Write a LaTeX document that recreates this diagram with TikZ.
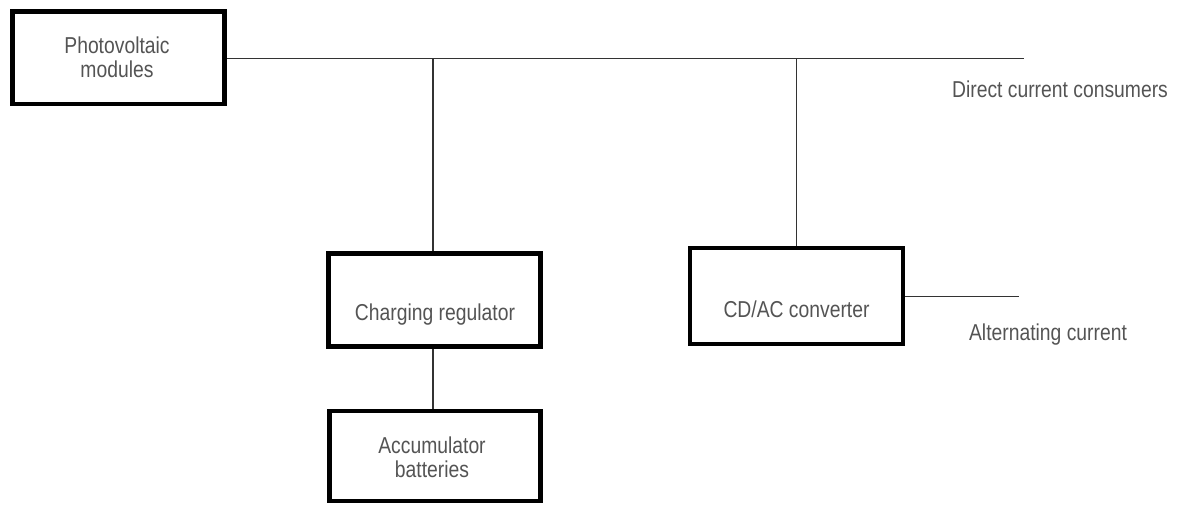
\documentclass[tikz,border=0pt]{standalone}
\usepackage{fontspec}
\setmainfont[FakeStretch=0.84]{Liberation Sans}
\usetikzlibrary{positioning}
\definecolor{labelgray}{rgb}{0.33,0.33,0.33}
\definecolor{wiregray}{rgb}{0.2,0.2,0.2}
\tikzset{
    pv diagram/.style = {x=1pt, y=-1pt},
    block/.style      = {draw, line width=4.6pt, fill=white,
                         minimum width=212pt, minimum height=93pt},
    txt/.style        = {text=labelgray, align=center, inner sep=0pt,
                         font=\fontsize{23}{24}\selectfont},
    wire/.style       = {draw=wiregray, line width=1.5pt},
    tap/.style        = {coordinate}
}
\begin{document}
\begin{tikzpicture}[pv diagram]
\useasboundingbox (0,0) rectangle (1184,504);

% ================= Blocks =================
\node[block, minimum height=92.5pt] (pv) at (118.5,57.75) {};
\node[block] (regulator) at (434.5,300) {};
\node[block, minimum width=211pt, minimum height=90pt] (batteries) at (435,456) {};
\node[block, minimum width=213pt, minimum height=96pt] (converter) at (796.5,296) {};

\node[txt] (pvtext) at (117,57) {Photovoltaic\\modules};
\node[txt, anchor=base] (regulatortext) at (435,320) {Charging regulator};
\node[txt] (batteriestext) at (432,457) {Accumulator\\batteries};
\node[txt, anchor=base] (convertertext) at (796.5,317) {CD/AC converter};

% ================= DC bus =================
\coordinate (busend) at (1024,58.3);
\coordinate (regtap) at (433,58.3);
\coordinate (convtap) at (796.5,58.3);
\draw[wire] (pv.east |- busend) -- (busend);
\draw[wire] (regtap) -- (regtap |- regulator.north);
\draw[wire] (convtap) -- (convtap |- converter.north);
\draw[wire] (regtap |- regulator.south) -- (regtap |- batteries.north);
\node[txt, anchor=base] (dclabel) at (1060,97) {Direct current consumers};

% ================= AC output =================
\coordinate (acend) at (1019,296.7);
\draw[wire] (converter.east |- acend) -- (acend);
\node[txt, anchor=base] (aclabel) at (1048,340) {Alternating current};

\end{tikzpicture}
\end{document}
